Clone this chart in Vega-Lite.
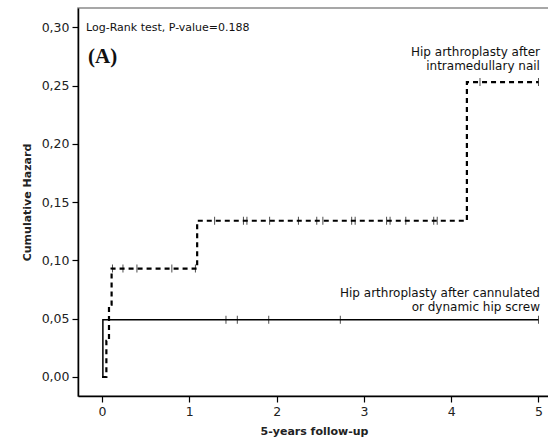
{
  "$schema": "https://vega.github.io/schema/vega-lite/v6.json",
  "autosize": "none",
  "width": 472,
  "height": 388,
  "padding": {"left": 78, "top": 8, "right": 0, "bottom": 49},
  "background": "white",
  "config": {
    "view": {"stroke": "#8a8a8a", "strokeWidth": 1.5},
    "font": "DejaVu Sans"
  },
  "datasets": {
    "steps": [
      {"group": "IM nail", "t": 0, "h": 0},
      {"group": "IM nail", "t": 0.05, "h": 0.031},
      {"group": "IM nail", "t": 0.08, "h": 0.062},
      {"group": "IM nail", "t": 0.11, "h": 0.093},
      {"group": "IM nail", "t": 1.09, "h": 0.134},
      {"group": "IM nail", "t": 4.18, "h": 0.253},
      {"group": "IM nail", "t": 5.0, "h": 0.253},
      {"group": "DHS", "t": 0, "h": 0},
      {"group": "DHS", "t": 0.01, "h": 0.049},
      {"group": "DHS", "t": 5.0, "h": 0.049}
    ],
    "censors": [
      {"group": "IM nail", "t": 0.12, "h": 0.093},
      {"group": "IM nail", "t": 0.24, "h": 0.093},
      {"group": "IM nail", "t": 0.40, "h": 0.093},
      {"group": "IM nail", "t": 0.80, "h": 0.093},
      {"group": "IM nail", "t": 1.07, "h": 0.093},
      {"group": "IM nail", "t": 1.29, "h": 0.134},
      {"group": "IM nail", "t": 1.62, "h": 0.134},
      {"group": "IM nail", "t": 1.66, "h": 0.134},
      {"group": "IM nail", "t": 1.92, "h": 0.134},
      {"group": "IM nail", "t": 2.25, "h": 0.134},
      {"group": "IM nail", "t": 2.46, "h": 0.134},
      {"group": "IM nail", "t": 2.53, "h": 0.134},
      {"group": "IM nail", "t": 2.86, "h": 0.134},
      {"group": "IM nail", "t": 2.90, "h": 0.134},
      {"group": "IM nail", "t": 3.26, "h": 0.134},
      {"group": "IM nail", "t": 3.30, "h": 0.134},
      {"group": "IM nail", "t": 3.48, "h": 0.134},
      {"group": "IM nail", "t": 3.80, "h": 0.134},
      {"group": "IM nail", "t": 3.84, "h": 0.134},
      {"group": "IM nail", "t": 4.33, "h": 0.253},
      {"group": "IM nail", "t": 5.0, "h": 0.253},
      {"group": "DHS", "t": 1.42, "h": 0.049},
      {"group": "DHS", "t": 1.55, "h": 0.049},
      {"group": "DHS", "t": 1.91, "h": 0.049},
      {"group": "DHS", "t": 2.73, "h": 0.049},
      {"group": "DHS", "t": 5.0, "h": 0.049}
    ],
    "notes": [
      {"label": "Hip arthroplasty after\nintramedullary nail", "t": 5.017, "h": 0.2785},
      {"label": "Hip arthroplasty after cannulated\nor dynamic hip screw", "t": 5.017, "h": 0.0718}
    ],
    "leftnotes": [
      {"label": "Log-Rank test, P-value=0.188", "t": -0.183, "h": 0.2993}
    ],
    "panel": [
      {"label": "(A)", "t": -0.16, "h": 0.2744}
    ]
  },
  "encoding": {
    "x": {
      "field": "t", "type": "quantitative",
      "scale": {"domain": [-0.275, 5.132], "nice": false, "zero": false},
      "axis": {
        "values": [0, 1, 2, 3, 4, 5],
        "title": "5-years follow-up",
        "grid": false,
        "domainColor": "black", "domainWidth": 1.5,
        "tickColor": "black", "tickSize": 6, "tickWidth": 1.2,
        "labelFont": "DejaVu Sans", "labelFontSize": 12.5, "labelColor": "#222", "labelPadding": 3,
        "titleFont": "DejaVu Sans", "titleFontSize": 11, "titleFontWeight": "bold", "titleColor": "#222", "titlePadding": 8
      }
    },
    "y": {
      "field": "h", "type": "quantitative",
      "scale": {"domain": [-0.0163, 0.3165], "nice": false, "zero": false},
      "axis": {
        "values": [0, 0.05, 0.1, 0.15, 0.2, 0.25, 0.3],
        "labelExpr": "replace(format(datum.value, '.2f'), '.', ',')",
        "title": "Cumulative Hazard",
        "grid": false,
        "domainColor": "black", "domainWidth": 1.5,
        "tickColor": "black", "tickSize": 6, "tickWidth": 1.2,
        "labelFont": "DejaVu Sans", "labelFontSize": 12.5, "labelColor": "#222", "labelPadding": 3,
        "titleFont": "DejaVu Sans", "titleFontSize": 11, "titleFontWeight": "bold", "titleColor": "#222", "titlePadding": 9
      }
    }
  },
  "layer": [
    {
      "data": {"name": "steps"},
      "transform": [{"filter": "datum.group === 'IM nail'"}],
      "mark": {"type": "line", "interpolate": "step-after", "color": "black", "strokeWidth": 2.2, "strokeDash": [5, 4]},
      "encoding": {}
    },
    {
      "data": {"name": "steps"},
      "transform": [{"filter": "datum.group === 'DHS'"}],
      "mark": {"type": "line", "interpolate": "step-after", "color": "black", "strokeWidth": 1.5},
      "encoding": {}
    },
    {
      "data": {"name": "censors"},
      "mark": {"type": "tick", "orient": "vertical", "color": "black", "size": 8, "thickness": 1},
      "encoding": {}
    },
    {
      "data": {"name": "notes"},
      "mark": {"type": "text", "align": "right", "baseline": "middle", "lineBreak": "\n", "lineHeight": 13.5, "font": "DejaVu Sans", "fontSize": 12, "color": "#111"},
      "encoding": {"text": {"field": "label"}}
    },
    {
      "data": {"name": "leftnotes"},
      "mark": {"type": "text", "align": "left", "baseline": "middle", "font": "DejaVu Sans", "fontSize": 11, "color": "#111"},
      "encoding": {"text": {"field": "label"}}
    },
    {
      "data": {"name": "panel"},
      "mark": {"type": "text", "align": "left", "baseline": "middle", "font": "Liberation Serif", "fontSize": 21, "fontWeight": "bold", "color": "#111"},
      "encoding": {"text": {"field": "label"}}
    }
  ]
}
